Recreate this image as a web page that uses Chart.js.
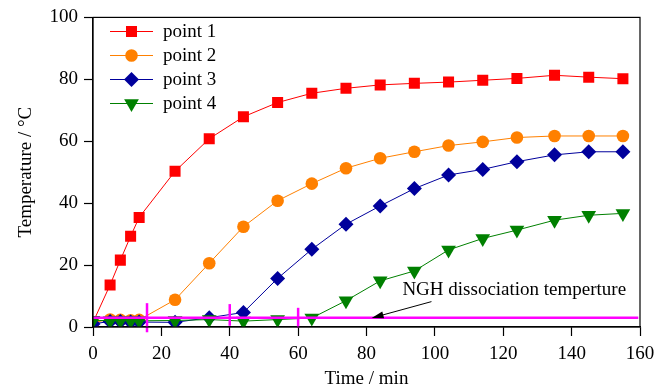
<!DOCTYPE html>
<html>
<head>
<meta charset="utf-8">
<script src="https://cdn.jsdelivr.net/npm/chart.js@4/dist/chart.umd.min.js"></script>
<style>
  body { margin: 0; background: #fff; }
  canvas { display: block; }
</style>
</head>
<body>
<canvas id="tempChart" width="668" height="386"></canvas>
<script>
// time of each reading, min
const times = [0, 5, 8, 11, 13.5, 24, 34, 44, 54, 64, 74, 84, 94, 104, 114, 124, 135, 145, 155];
// temperature at each point, °C
const point1 = [1.5, 13.6, 21.6, 29.3, 35.4, 50.3, 60.8, 67.9, 72.5, 75.5, 77.1, 78.2, 78.7, 79.1, 79.7, 80.3, 81.3, 80.7, 80.2];
const point2 = [1.5, 2.4, 2.3, 2.2, 2.3, 8.8, 20.6, 32.4, 40.8, 46.3, 51.3, 54.5, 56.6, 58.6, 59.8, 61.2, 61.7, 61.7, 61.7];
const point3 = [1.0, 1.8, 1.8, 1.6, 1.6, 1.5, 3.0, 4.7, 15.7, 25.1, 33.2, 39.1, 44.7, 49.1, 50.9, 53.4, 55.6, 56.6, 56.6];
const point4 = [2.2, 2.0, 2.0, 2.0, 2.0, 2.1, 2.4, 1.9, 2.4, 2.9, 8.5, 14.9, 18.1, 24.9, 28.6, 31.3, 34.5, 36.1, 36.7];

const seriesNames = ['point 1', 'point 2', 'point 3', 'point 4'];
const xTicks = [0, 20, 40, 60, 80, 100, 120, 140, 160];
const yTicks = [0, 20, 40, 60, 80, 100];

// dissociation temperature line and the stage markers on it
const ngnTemp = 3.0;
const ngnRange = [0, 159.5];
const stageTimes = [15.8, 40, 60];
const stageLow = [-1.7, 0.4, -0.3];
const stageHigh = [7.7, 7.4, 6.2];

// annotation, in data units
const noteText = 'NGH dissociation temperture';
const notePos = [90.5, 11.8];
const arrowFrom = [99, 8.2];
const arrowTo = [81.5, 2.9];

const serifFont = 'Liberation Serif';
const styles = [
  { color: '#ff0000', pointStyle: 'rect', radius: 7.8, rotation: 0 },
  { color: '#ff8000', pointStyle: 'circle', radius: 6.3, rotation: 0 },
  { color: '#00009c', pointStyle: 'rectRot', radius: 7.5, rotation: 0 },
  { color: '#008000', pointStyle: 'triangle', radius: 8.5, rotation: 180 }
];
const allSeries = [point1, point2, point3, point4];

const datasets = [];
datasets.push({
  label: 'ngh',
  data: ngnRange.map(t => ({ x: t, y: ngnTemp })),
  borderColor: '#ff00ff',
  borderWidth: 2.5,
  pointRadius: 0,
  order: 0
});
stageTimes.forEach((t, i) => {
  datasets.push({
    label: 'stage' + i,
    data: [{ x: t, y: stageLow[i] }, { x: t, y: stageHigh[i] }],
    borderColor: '#ff00ff',
    borderWidth: 2.5,
    pointRadius: 0,
    clip: false,
    order: 0
  });
});
allSeries.forEach((vals, i) => {
  const st = styles[i];
  datasets.push({
    label: seriesNames[i],
    data: times.map((t, k) => ({ x: t, y: vals[k] })),
    borderColor: st.color,
    backgroundColor: st.color,
    borderWidth: 1,
    pointStyle: st.pointStyle,
    pointRadius: st.radius,
    pointRotation: st.rotation,
    pointBorderWidth: 0,
    pointBackgroundColor: st.color,
    order: 5 - i
  });
});

const frameAndNotes = {
  id: 'frameAndNotes',
  afterDraw(chart) {
    const ctx = chart.ctx;
    const area = chart.chartArea;
    const xs = chart.scales.x;
    const ys = chart.scales.y;
    ctx.save();
    ctx.strokeStyle = '#000';
    ctx.lineWidth = 1.2;
    ctx.strokeRect(area.left, area.top, area.right - area.left, area.bottom - area.top);

    // legend inside the plot
    styles.forEach((st, i) => {
      const yy = 31.5 + i * 24;
      ctx.strokeStyle = st.color;
      ctx.lineWidth = 1;
      ctx.beginPath();
      ctx.moveTo(110, yy);
      ctx.lineTo(153, yy);
      ctx.stroke();
      ctx.fillStyle = st.color;
      Chart.helpers.drawPoint(ctx, { pointStyle: st.pointStyle, radius: st.radius, rotation: st.rotation, borderWidth: 0 }, 131.5, yy);
      ctx.fillStyle = '#000';
      ctx.font = '19px "' + serifFont + '"';
      ctx.textAlign = 'left';
      ctx.textBaseline = 'middle';
      ctx.fillText(seriesNames[i], 163, yy + 1);
    });

    // annotation text and arrow
    ctx.fillStyle = '#000';
    ctx.font = '19px "' + serifFont + '"';
    ctx.textAlign = 'left';
    ctx.textBaseline = 'middle';
    ctx.fillText(noteText, xs.getPixelForValue(notePos[0]), ys.getPixelForValue(notePos[1]));

    const x1 = xs.getPixelForValue(arrowFrom[0]), y1 = ys.getPixelForValue(arrowFrom[1]);
    const x2 = xs.getPixelForValue(arrowTo[0]), y2 = ys.getPixelForValue(arrowTo[1]);
    const ang = Math.atan2(y2 - y1, x2 - x1);
    const headLen = 12, headW = 3.5;
    ctx.strokeStyle = '#000';
    ctx.lineWidth = 1;
    ctx.beginPath();
    ctx.moveTo(x1, y1);
    ctx.lineTo(x2 - Math.cos(ang) * headLen * 0.8, y2 - Math.sin(ang) * headLen * 0.8);
    ctx.stroke();
    ctx.beginPath();
    ctx.moveTo(x2, y2);
    ctx.lineTo(x2 - Math.cos(ang) * headLen + Math.sin(ang) * headW, y2 - Math.sin(ang) * headLen - Math.cos(ang) * headW);
    ctx.lineTo(x2 - Math.cos(ang) * headLen - Math.sin(ang) * headW, y2 - Math.sin(ang) * headLen + Math.cos(ang) * headW);
    ctx.closePath();
    ctx.fill();
    ctx.restore();
  }
};

const tickFont = { family: serifFont, size: 19 };
const axisGrid = {
  display: true,
  drawOnChartArea: false,
  drawTicks: true,
  tickLength: 9,
  tickColor: '#000',
  tickWidth: 1.2
};

new Chart(document.getElementById('tempChart'), {
  type: 'line',
  data: { datasets: datasets },
  options: {
    responsive: false,
    animation: false,
    devicePixelRatio: 1,
    layout: { padding: { top: 16, right: 28, left: 0, bottom: 0 } },
    plugins: {
      legend: { display: false },
      tooltip: { enabled: false }
    },
    scales: {
      x: {
        type: 'linear',
        min: 0,
        max: 160,
        afterBuildTicks: (scale) => { scale.ticks = xTicks.map(v => ({ value: v })); },
        afterFit: (scale) => { scale.height = 59; },
        grid: axisGrid,
        border: { display: true, color: '#000', width: 1.2 },
        ticks: { font: tickFont, color: '#000', padding: 7, maxRotation: 0 },
        title: {
          display: true,
          text: 'Time / min',
          font: { family: serifFont, size: 19, lineHeight: 0.75 },
          color: '#000',
          padding: { top: 0, bottom: 0 }
        }
      },
      y: {
        type: 'linear',
        min: 0,
        max: 100,
        afterBuildTicks: (scale) => { scale.ticks = yTicks.map(v => ({ value: v })); },
        afterFit: (scale) => { scale.width = 93; },
        grid: axisGrid,
        border: { display: true, color: '#000', width: 1.2 },
        ticks: { font: tickFont, color: '#000', padding: 6 },
        title: {
          display: true,
          text: 'Temperature / °C',
          font: { family: serifFont, size: 19, lineHeight: 1 },
          color: '#000',
          padding: { top: 17, bottom: 0 }
        }
      }
    }
  },
  plugins: [frameAndNotes]
});
</script>
</body>
</html>
